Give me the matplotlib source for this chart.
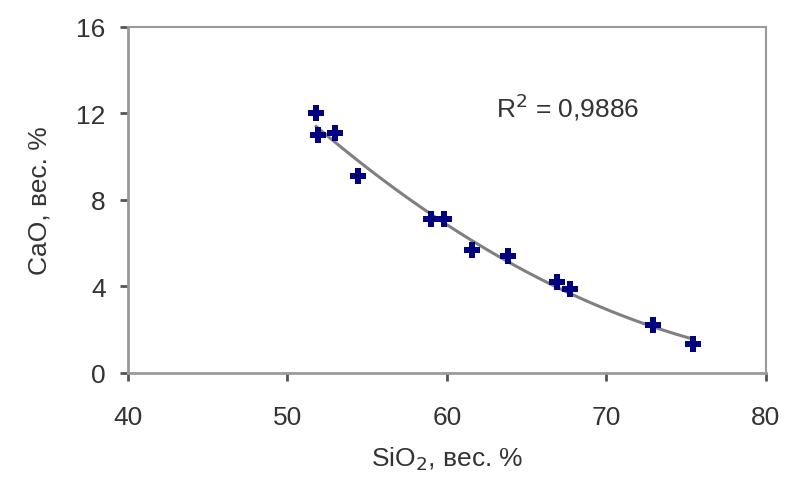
import numpy as np
import matplotlib.pyplot as plt

plt.rcParams['font.family'] = ['Liberation Sans', 'DejaVu Sans']

# SiO2 vs CaO, wt. %
sio2 = [51.8, 51.9, 53.0, 54.4, 59.0, 59.8, 61.6, 63.8, 66.9, 67.7, 72.9, 75.4]
cao = [12.0, 11.0, 11.1, 9.1, 7.1, 7.1, 5.7, 5.4, 4.2, 3.9, 2.2, 1.35]
r2_text = "R$^2$ = 0,9886"

x_ticks = [40, 50, 60, 70, 80]
y_ticks = [0, 4, 8, 12, 16]

# 2nd order polynomial trend line
coef = np.polyfit(sio2, cao, 2)
xs = np.linspace(min(sio2), max(sio2), 200)
ys = np.polyval(coef, xs)

fig = plt.figure(figsize=(7.88, 4.81), dpi=100)
ax = fig.add_axes([0.1624, 0.2225, 0.8096, 0.7193])

ax.plot(xs, ys, color='#808080', lw=2.2, zorder=2)
ax.plot(sio2, cao, linestyle='none', marker='P', markersize=11,
        color='#000080', markeredgewidth=0, zorder=3)

ax.text(63.1, 12.35, r2_text, fontsize=19, color='#333333', va='center', ha='left')

ax.set_xlim(40, 80)
ax.set_ylim(0, 16)
ax.set_xticks(x_ticks)
ax.set_yticks(y_ticks)
ax.tick_params(labelsize=19, colors='#555555', labelcolor='#333333',
               direction='out', length=6, width=2)
ax.tick_params(axis='x', pad=17)
ax.tick_params(axis='y', pad=10)

for s in ax.spines.values():
    s.set_color('#999999')
    s.set_linewidth(2)
ax.spines['top'].set_linewidth(1.5)
ax.spines['right'].set_linewidth(1.5)

ax.set_xlabel('SiO$_2$, вес. %', fontsize=19, color='#333333', labelpad=11)
ax.set_ylabel('CaO, вес. %', fontsize=19, color='#333333', labelpad=18)

fig.savefig('out.png', dpi=100)
